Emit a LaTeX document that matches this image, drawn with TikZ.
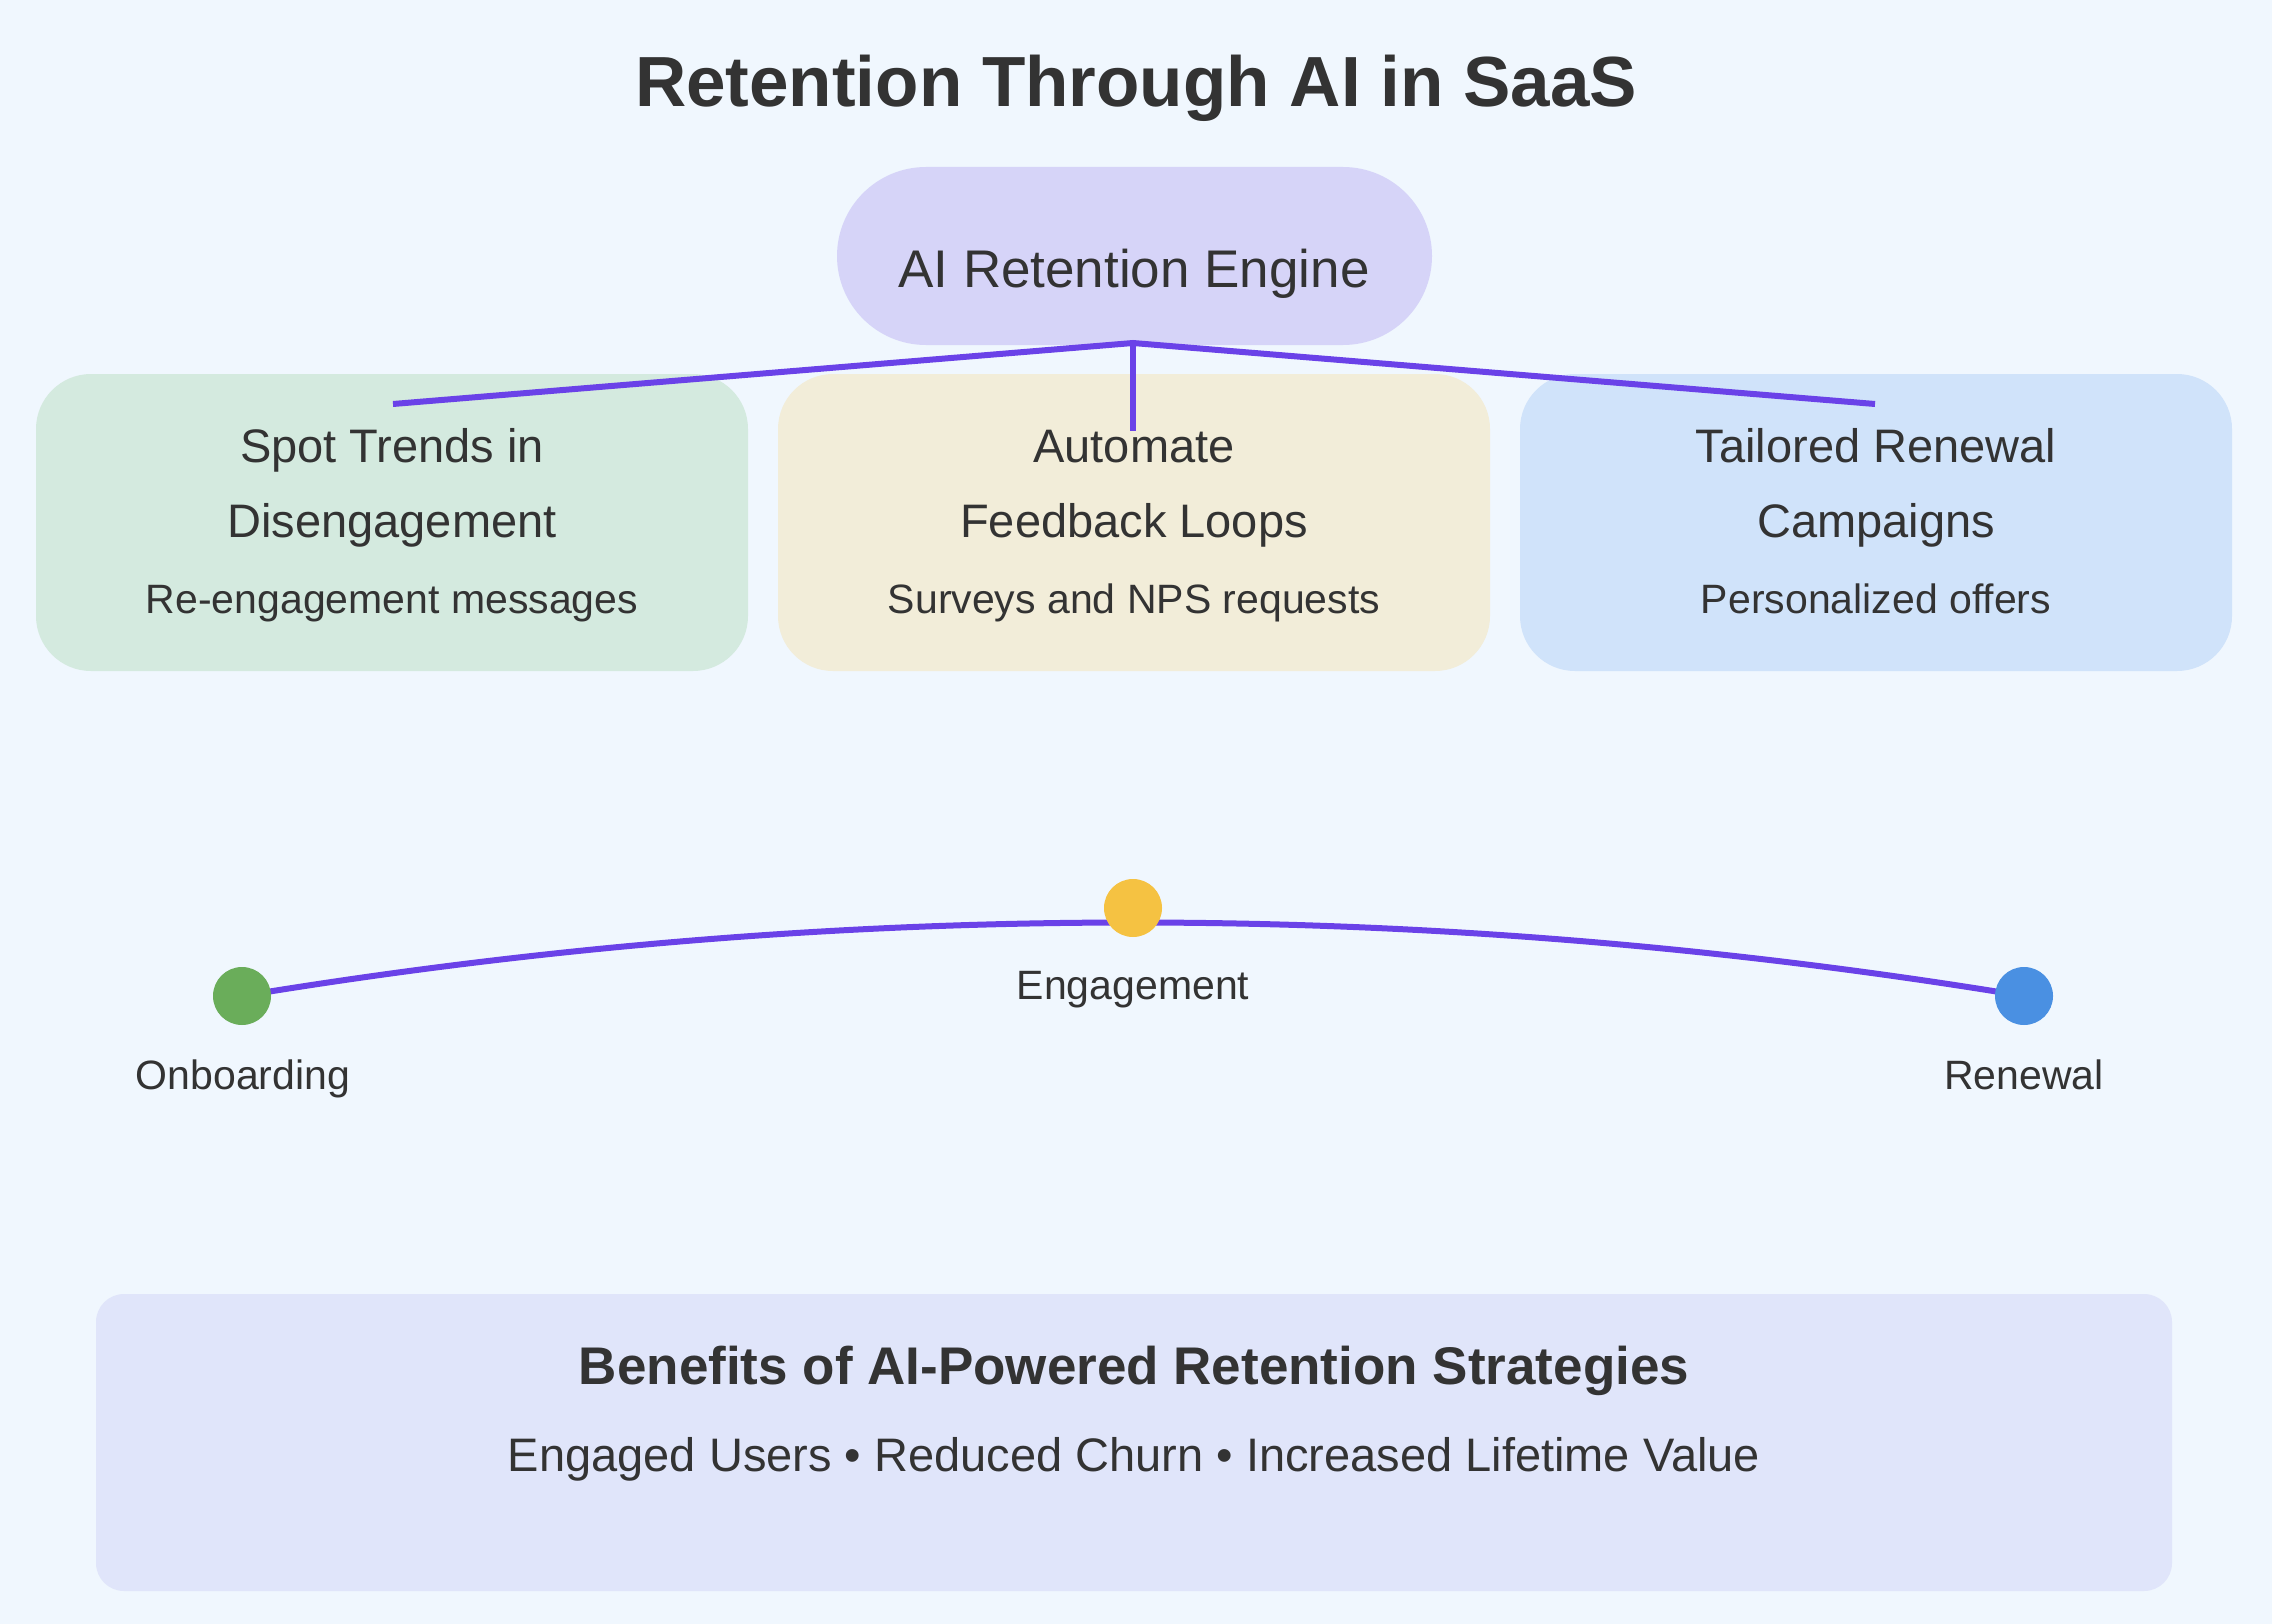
\documentclass[tikz,border=0pt]{standalone}
\usepackage{fontspec}
\setmainfont{Liberation Sans}
\definecolor{bgc}{HTML}{F0F7FE}
\definecolor{txt}{HTML}{333333}
\definecolor{engc}{HTML}{D6D4F8}
\definecolor{grc}{HTML}{D4EADF}
\definecolor{bec}{HTML}{F2EDD9}
\definecolor{blc}{HTML}{D0E3FA}
\definecolor{botc}{HTML}{E0E5FA}
\definecolor{linec}{HTML}{6A42E8}
\definecolor{dotg}{HTML}{6AAD5A}
\definecolor{doty}{HTML}{F5C242}
\definecolor{dotb}{HTML}{4A90E2}
\tikzset{
  card/.style={rectangle, draw=none, rounded corners=55pt, minimum width=712pt, minimum height=297pt, inner sep=0pt},
  conn/.style={draw=linec, line width=6pt},
  dotn/.style={circle, minimum size=58pt, inner sep=0pt, draw=none},
  ttl/.style={text=txt, font=\fontsize{47}{56}\selectfont, inner sep=0pt, anchor=base},
  sub/.style={text=txt, font=\fontsize{41}{49}\selectfont, inner sep=0pt, anchor=base},
}
\begin{document}
\begin{tikzpicture}[x=1pt, y=-1pt]
\fill[bgc] (0,0) rectangle (2272,1624);
\useasboundingbox (0,0) rectangle (2272,1624);
% title
\node[text=txt, font=\bfseries\fontsize{71}{80}\selectfont, inner sep=0pt, anchor=base] (title) at (1136,107) {Retention Through AI in SaaS};
% engine
\node[rectangle, fill=engc, rounded corners=89pt, minimum width=595pt, minimum height=178pt, inner sep=0pt] (engine) at (1134.5,256) {};
\node[text=txt, font=\fontsize{53}{60}\selectfont, inner sep=0pt, anchor=base] (enginet) at (1134,287) {AI Retention Engine};
% cards
\node[card, fill=grc] (c1) at (392,522.5) {};
\node[card, fill=bec] (c2) at (1134,522.5) {};
\node[card, fill=blc] (c3) at (1876,522.5) {};
% connectors
\coordinate (hub) at (1133,343);
\coordinate (e1) at (393,404);
\coordinate (e2) at (1133,431);
\coordinate (e3) at (1875,404);
\draw[conn] (e1) -- (hub) -- (e3);
\draw[conn] (hub) -- (e2);
% card texts
\node[ttl] (c1a) at (392,462) {Spot Trends in};
\node[ttl] (c1b) at (392,537) {Disengagement};
\node[sub] (c1c) at (392,613) {Re-engagement messages};
\node[ttl] (c2a) at (1134,462) {Automate};
\node[ttl] (c2b) at (1134,537) {Feedback Loops};
\node[sub] (c2c) at (1134,613) {Surveys and NPS requests};
\node[ttl] (c3a) at (1876,462) {Tailored Renewal};
\node[ttl] (c3b) at (1876,537) {Campaigns};
\node[sub] (c3c) at (1876,613) {Personalized offers};
% journey
\coordinate (p1) at (242,996);
\coordinate (p2) at (1133,908);
\coordinate (p3) at (2024,996);
\draw[conn] (p1) .. controls (836,898) and (1430,898) .. (p3);
\node[dotn, fill=dotg] (don) at (p1) {};
\node[dotn, fill=doty] (den) at (p2) {};
\node[dotn, fill=dotb] (dre) at (p3) {};
\node[sub] (lon) at (243,1089) {Onboarding};
\node[sub] (len) at (1133,999) {Engagement};
\node[sub] (lre) at (2024,1089) {Renewal};
% bottom
\node[rectangle, fill=botc, rounded corners=28pt, minimum width=2076pt, minimum height=297pt, inner sep=0pt] (bot) at (1134,1442.5) {};
\node[text=txt, font=\bfseries\fontsize{53}{60}\selectfont, inner sep=0pt, anchor=base] (bott) at (1134,1384) {Benefits of AI-Powered Retention Strategies};
\node[ttl] (bots) at (1134,1471) {Engaged Users • Reduced Churn • Increased Lifetime Value};
\end{tikzpicture}
\end{document}
